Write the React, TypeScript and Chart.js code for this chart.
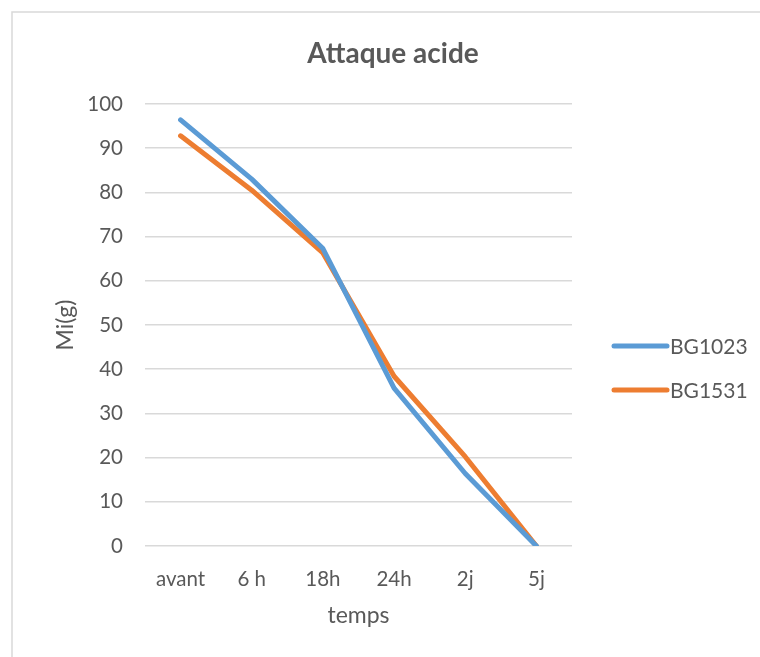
import React, { useEffect, useRef } from "react";
import { Chart, registerables } from "chart.js";

Chart.register(...registerables);

const categories = ["avant", "6 h", "18h", "24h", "2j", "5j"];
const bg1023 = [96.4, 83.0, 67.3, 35.7, 16.4, 0];
const bg1531 = [92.8, 80.5, 66.3, 38.4, 20.2, 0];
const yTicksMin = 0;
const yTicksMax = 100;
const yStep = 10;

const FONT = "Lato, 'Open Sans', sans-serif";
const TEXT = "#595959";

export default function App() {
  const ref = useRef<HTMLCanvasElement | null>(null);

  useEffect(() => {
    if (!ref.current) return;
    const legendPlugin = {
      id: "customLegend",
      afterDraw(chart: any) {
        const ctx = chart.ctx;
        ctx.save();
        // frame
        ctx.strokeStyle = "#d9d9d9";
        ctx.lineWidth = 1.5;
        ctx.beginPath();
        ctx.moveTo(12, 900);
        ctx.lineTo(12, 12);
        ctx.lineTo(900, 12);
        ctx.stroke();
        // title
        ctx.fillStyle = TEXT;
        ctx.font = `bold 28px ${FONT}`;
        ctx.textAlign = "center";
        ctx.textBaseline = "middle";
        ctx.fillText("Attaque acide", 393, 54);
        // legend
        const items = chart.data.datasets;
        items.forEach((ds: any, i: number) => {
          const y = 346 + i * 44;
          ctx.strokeStyle = ds.borderColor;
          ctx.lineWidth = 5;
          ctx.lineCap = "round";
          ctx.beginPath();
          ctx.moveTo(614, y);
          ctx.lineTo(667, y);
          ctx.stroke();
          ctx.fillStyle = TEXT;
          ctx.font = `21px ${FONT}`;
          ctx.textAlign = "left";
          ctx.textBaseline = "middle";
          ctx.fillText(ds.label, 670, y + 1);
        });
        ctx.restore();
      },
    };

    const chart = new Chart(ref.current, {
      type: "line",
      data: {
        labels: categories,
        datasets: [
          {
            label: "BG1023",
            data: bg1023,
            borderColor: "#5b9bd5",
            backgroundColor: "#5b9bd5",
            borderWidth: 5,
            pointRadius: 0,
            tension: 0,
            borderCapStyle: "round",
            borderJoinStyle: "round",
          },
          {
            label: "BG1531",
            data: bg1531,
            borderColor: "#ed7d31",
            backgroundColor: "#ed7d31",
            borderWidth: 5,
            pointRadius: 0,
            tension: 0,
            borderCapStyle: "round",
            borderJoinStyle: "round",
          },
        ],
      },
      options: {
        animation: false,
        responsive: false,
        maintainAspectRatio: false,
        layout: { padding: { left: 48, right: 188, top: 104, bottom: 24 } },
        plugins: {
          legend: { display: false },
          title: { display: false },
          tooltip: { enabled: false },
        },
        scales: {
          x: {
            offset: true,
            grid: { display: false, drawTicks: false },
            border: { display: false },
            ticks: { color: TEXT, font: { family: FONT, size: 20.5 }, padding: 21, maxRotation: 0 },
            title: { display: true, text: "temps", color: TEXT, font: { family: FONT, size: 23 }, padding: { top: 4, bottom: 4 } },
            afterFit: (s: any) => { s.height = 87; },
          },
          y: {
            min: yTicksMin,
            max: yTicksMax,
            grid: { color: "#d9d9d9", lineWidth: 1.5, drawTicks: false },
            border: { display: false },
            ticks: { stepSize: yStep, color: TEXT, font: { family: FONT, size: 20.5 }, padding: 22 },
            title: { display: true, text: "Mi(g)", color: TEXT, font: { family: FONT, size: 23 }, padding: { top: 4, bottom: 4 } },
            afterFit: (s: any) => { s.width = 97; },
          },
        },
      },
      plugins: [legendPlugin],
    });
    return () => chart.destroy();
  }, []);

  return (
    <div style={{ position: "absolute", left: 0, top: 0, width: 760, height: 657, background: "#fff" }}>
      <canvas ref={ref} width={760} height={657} style={{ width: 760, height: 657, display: "block" }} />
    </div>
  );
}
